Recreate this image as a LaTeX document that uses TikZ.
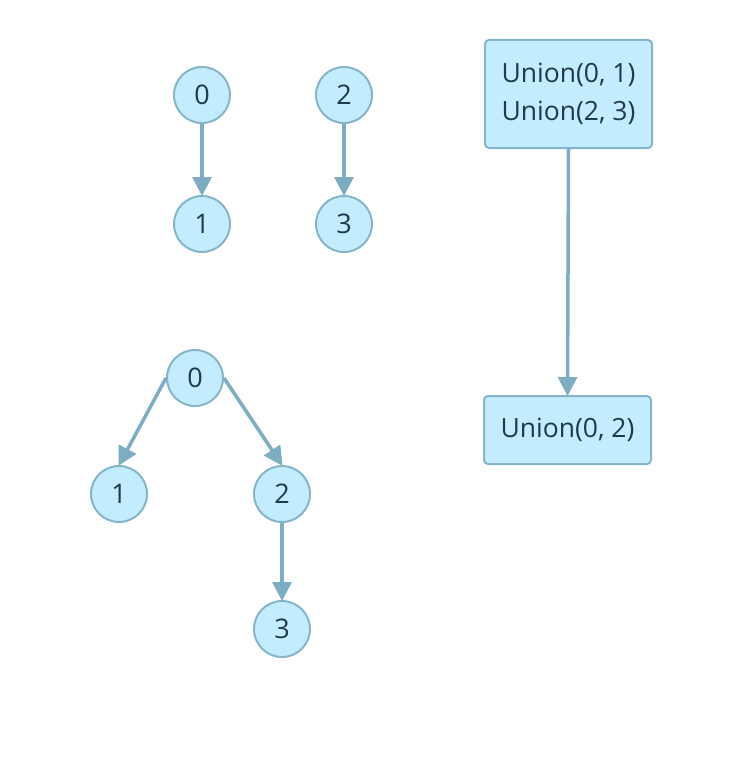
\documentclass[tikz,border=0pt]{standalone}
\usepackage{fontspec}
\setmainfont{Open Sans}
\usetikzlibrary{arrows.meta}
\definecolor{nfill}{HTML}{C4ECFF}
\definecolor{nline}{HTML}{86B5CB}
\definecolor{aline}{HTML}{7DADC3}
\definecolor{ntext}{HTML}{1E3A4C}
\tikzset{
  vert/.style={circle, draw=nline, fill=nfill, line width=2pt, minimum size=56pt, inner sep=0pt, text=ntext, font=\fontsize{27}{32}\selectfont},
  opbox/.style={rectangle, rounded corners=4pt, draw=nline, fill=nfill, line width=2pt, text=ntext, align=center, font=\fontsize{26.5}{38}\selectfont},
  link/.style={draw=aline, line width=3.5pt, -{Triangle[length=19pt, width=19pt]}, shorten >=-1pt}
}
\begin{document}
\begin{tikzpicture}[x=1pt, y=-1pt]
\useasboundingbox (0,0) rectangle (741,768);
\node[vert] (a0) at (202,95) {0};
\node[vert] (a1) at (202,224) {1};
\node[vert] (a2) at (344,95) {2};
\node[vert] (a3) at (344,224) {3};
\draw[link] (a0) -- (a1);
\draw[link] (a2) -- (a3);
\node[opbox, minimum width=167pt, minimum height=108pt] (u1) at (568.5,94) {Union(0, 1)\\Union(2, 3)};
\node[opbox, minimum width=167pt, minimum height=68pt] (u2) at (567.5,430) {Union(0, 2)};
\draw[link] (u1.south) -- (u2.north);
\node[vert] (b0) at (195,378) {0};
\node[vert] (b1) at (119,494) {1};
\node[vert] (b2) at (282,494) {2};
\node[vert] (b3) at (282,629) {3};
\draw[link] (b0.west) -- (b1.north);
\draw[link] (b0.east) -- (b2.north);
\draw[link] (b2) -- (b3);
\end{tikzpicture}
\end{document}
